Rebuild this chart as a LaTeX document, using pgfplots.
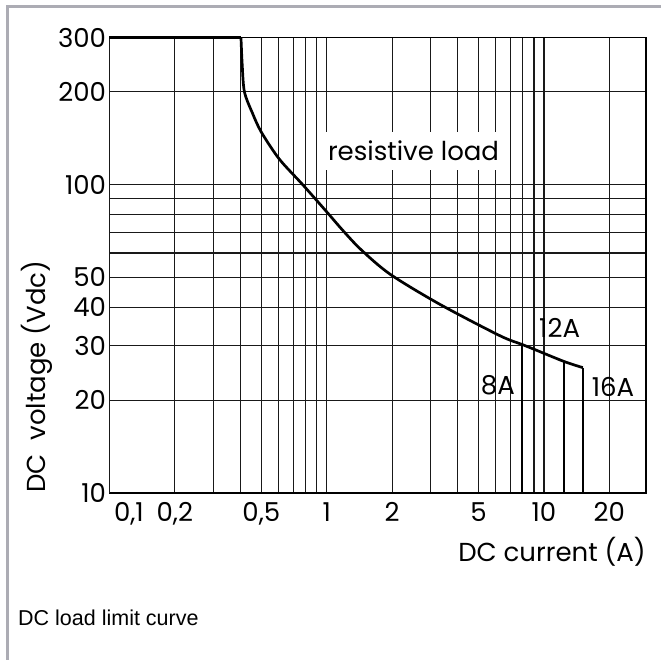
\documentclass[border=0pt]{standalone}
\usepackage{fontspec}
\setmainfont{Poppins}
\newfontfamily\capfont{Liberation Sans}
\usepackage{pgfplots}
\pgfplotsset{compat=1.18}
\definecolor{framegray}{RGB}{172,172,180}
\definecolor{gridc}{RGB}{25,25,25}

\begin{document}
\begin{tikzpicture}[font=\fontsize{26bp}{31bp}\selectfont]
% page and grey frame
\path[use as bounding box, fill=white] (0,0) rectangle (661bp,660bp);
\draw[framegray, line width=3bp] (7.5bp,0) -- (7.5bp,653.5bp) -- (661bp,653.5bp);
\node[anchor=base west, inner sep=0pt, font={\capfont\fontsize{21.5bp}{25bp}\selectfont}]
  at (18bp,35bp) {DC load limit curve};

\begin{axis}[
  at={(109.5bp,167bp)}, anchor=south west,
  scale only axis, width=536.5bp, height=455.5bp,
  xmode=log, ymode=log,
  xmin=0.1, xmax=29.5, ymin=10, ymax=300,
  xtick={0.2,0.5,1,2,5,10,20},
  xticklabels={0{,}2,0{,}5,1,2,5,10,20},
  extra x ticks={0.1}, extra x tick labels={0{,}1},
  extra x tick style={xticklabel style={anchor=north west, xshift=1bp}},
  minor xtick={0.3,0.4,0.6,0.7,0.8,0.9,3,4,6,7,8,9},
  ytick={10,20,30,40,50,100,200,300},
  yticklabels={10,20,30,40,50,100,200,300},
  minor ytick={60,70,80,90},
  grid=both,
  major grid style={gridc, line width=1.1bp},
  minor grid style={gridc, line width=1.1bp},
  axis line style={black, line width=1.3bp},
  major tick length=0pt, minor tick length=0pt,
  xticklabel style={yshift=-6bp},
  xlabel={DC current (A)},
  xlabel style={at={(rel axis cs:1,0)}, anchor=north east, inner sep=0pt, yshift=-44bp},
  ylabel={DC\ \ voltage (Vdc)},
  ylabel style={at={(rel axis cs:-0.165,0)}, anchor=north west, inner sep=0pt},
  clip=false,
]
% limit curve, resistive load
\addplot[black, line width=2.7bp] coordinates {(0.1,300) (0.403,300)};
\addplot[black, line width=2.7bp, smooth, tension=0.5] coordinates {
  (0.403,300) (0.408,247) (0.418,200) (0.456,170) (0.5,148)
  (0.605,121) (0.775,100) (1,81.6) (1.185,71.1) (1.44,61.5) (1.96,51.2)
  (3.3,41) (6.25,32.4) (7.95,30.3) (9.06,29.2) (12.37,26.7) (15.1,25.5)
};
% current limits
\addplot[black, line width=2.4bp] coordinates {(7.95,30.3) (7.95,10)};
\addplot[black, line width=2.4bp] coordinates {(12.37,26.7) (12.37,10)};
\addplot[black, line width=2.4bp] coordinates {(15.1,25.5) (15.1,10)};

\node[fill=white, inner xsep=8bp, inner ysep=9bp] at (axis cs:2.51,128.9) {resistive load};
\node at (axis cs:11.81,34.3) {12A};
\node at (axis cs:6.14,22.4) {8A};
\node at (axis cs:20.8,22.1) {16A};
\end{axis}
\end{tikzpicture}
\end{document}
